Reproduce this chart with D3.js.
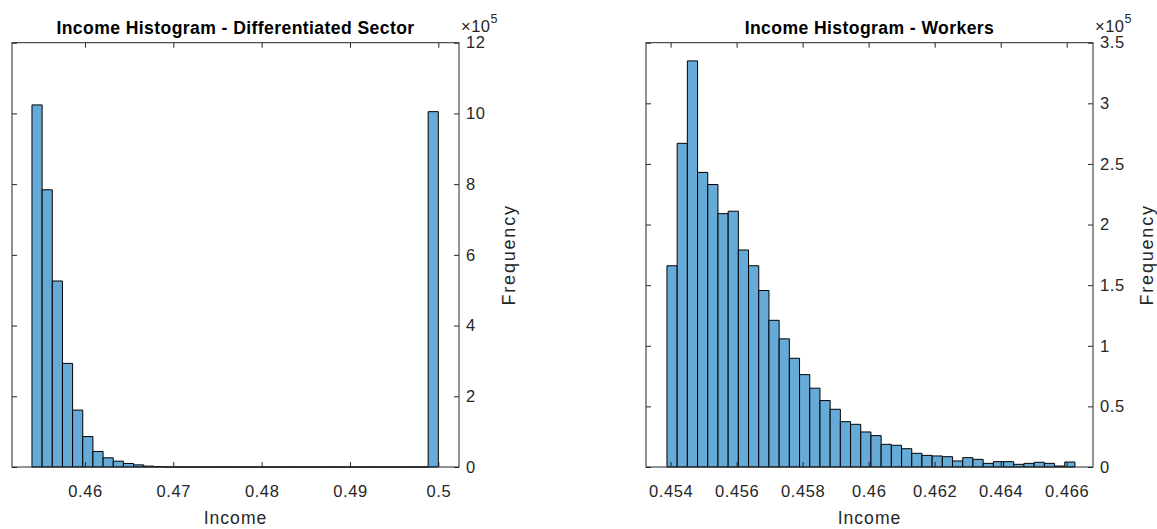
<!DOCTYPE html>
<html lang="en">
<head>
<meta charset="UTF-8">
<title>Income Histograms</title>
<script src="https://d3js.org/d3.v7.min.js"></script>
<style>
  body { margin: 0; background: #fff; }
  text { font-family: "Liberation Sans", Arial, Helvetica, sans-serif; }
  .tick text { font-size: 16.5px; fill: #262626; letter-spacing: 0.6px; }
  .tick line { stroke: #262626; stroke-width: 1; }
</style>
</head>
<body>
<svg id="chart" width="1157" height="529"></svg>
<script>
// ---- Data ----
// Differentiated sector: 40 bins starting at 0.454, width 0.00115
const sectorBinStart = 0.454;
const sectorBinWidth = 0.00115;
const sectorCounts = [
  1024000, 784000, 526000, 293000, 161000, 86000, 44000, 26000, 16500, 10000,
  6000, 2500, 1000, 0, 0, 0, 0, 0, 0, 0,
  0, 0, 0, 0, 0, 0, 0, 0, 0, 0,
  0, 0, 0, 0, 0, 0, 0, 0, 0, 1005000
];
const sectorXDomain = [0.45174, 0.50234];
const sectorXTicks = [0.46, 0.47, 0.48, 0.49, 0.5];
const sectorXLabels = ["0.46", "0.47", "0.48", "0.49", "0.5"];
const sectorYMax = 1200000;
const sectorYTicks = [0, 200000, 400000, 600000, 800000, 1000000, 1200000];
const sectorYLabels = ["0", "2", "4", "6", "8", "10", "12"];

// Workers: 40 bins starting at 0.45389, width 0.000309
const workerBinStart = 0.45389;
const workerBinWidth = 0.000309;
const workerCounts = [
  166000, 267000, 335000, 243000, 233000, 209000, 211000, 179000, 166000, 145600,
  121000, 105700, 89700, 76200, 65000, 54800, 47600, 37400, 35200, 28900,
  25900, 18700, 17900, 15100, 11300, 9600, 9100, 8500, 5000, 7700,
  6300, 3000, 4400, 4400, 2200, 3000, 3900, 3000, 800, 4100
];
const workerXDomain = [0.453255, 0.466797];
const workerXTicks = [0.454, 0.456, 0.458, 0.46, 0.462, 0.464, 0.466];
const workerXLabels = ["0.454", "0.456", "0.458", "0.46", "0.462", "0.464", "0.466"];
const workerYMax = 350000;
const workerYTicks = [0, 50000, 100000, 150000, 200000, 250000, 300000, 350000];
const workerYLabels = ["0", "0.5", "1", "1.5", "2", "2.5", "3", "3.5"];

// ---- Layout ----
const plotTop = 42.7, plotBottom = 467, plotWidth = 447;
const tickLen = 5;
const axisColor = "#262626";

const svg = d3.select("#chart");

function drawHist(cfg) {
    const left = cfg.left, right = cfg.left + plotWidth;
    const g = svg.append("g");

    const x = d3.scaleLinear().domain(cfg.xDomain).range([left, right]);
    const y = d3.scaleLinear().domain([0, cfg.yMax]).range([plotBottom, plotTop]);

    // bars (paths so empty bins still show as a flat edge)
    g.append("g")
        .selectAll("path")
        .data(cfg.counts)
        .join("path")
            .attr("d", (c, i) => {
                const x0 = x(cfg.binStart + i * cfg.binWidth);
                const x1 = x(cfg.binStart + (i + 1) * cfg.binWidth);
                return `M${x0},${y(0)}V${y(c)}H${x1}V${y(0)}Z`;
            })
            .attr("fill", "#66aad7")
            .attr("stroke", "#000")
            .attr("stroke-width", 1);

    // axes, ticks pointing inward
    const fmtX = (d, i) => cfg.xLabels[i];
    const fmtY = (d, i) => cfg.yLabels[i];

    const gBottom = g.append("g")
        .attr("transform", `translate(0,${plotBottom})`)
        .call(d3.axisBottom(x).tickValues(cfg.xTicks).tickFormat(fmtX)
            .tickSize(-tickLen).tickSizeOuter(0).tickPadding(18.3));
    const gTop = g.append("g")
        .attr("transform", `translate(0,${plotTop})`)
        .call(d3.axisTop(x).tickValues(cfg.xTicks).tickFormat("")
            .tickSize(-tickLen).tickSizeOuter(0));
    const gRight = g.append("g")
        .attr("transform", `translate(${right},0)`)
        .call(d3.axisRight(y).tickValues(cfg.yTicks).tickFormat(fmtY)
            .tickSize(-tickLen).tickSizeOuter(0).tickPadding(7));
    const gLeft = g.append("g")
        .attr("transform", `translate(${left},0)`)
        .call(d3.axisLeft(y).tickValues(cfg.yTicks).tickFormat("")
            .tickSize(-tickLen).tickSizeOuter(0));

    [gBottom, gTop, gRight, gLeft].forEach(a => {
        a.select(".domain").remove();
        a.attr("font-family", null).attr("font-size", null);
    });

    // box
    g.append("rect")
        .attr("x", left)
        .attr("y", plotTop)
        .attr("width", plotWidth)
        .attr("height", plotBottom - plotTop)
        .attr("fill", "none")
        .attr("stroke", axisColor)
        .attr("stroke-width", 1);

    // exponent label
    const expo = g.append("text")
        .attr("x", right + 2)
        .attr("y", 32)
        .style("font-size", "16.5px")
        .style("letter-spacing", "0.5px")
        .attr("fill", axisColor);
    expo.append("tspan").text("\u00d710");
    expo.append("tspan").attr("dy", -9).style("font-size", "12.5px").text("5");

    // title
    g.append("text")
        .attr("x", (left + right) / 2)
        .attr("y", 34)
        .attr("text-anchor", "middle")
        .style("font-size", "17.6px")
        .style("font-weight", "bold")
        .style("letter-spacing", "0.4px")
        .attr("fill", "#000")
        .text(cfg.title);

    // x label
    g.append("text")
        .attr("x", (left + right) / 2)
        .attr("y", 524)
        .attr("text-anchor", "middle")
        .style("font-size", "17.6px")
        .style("letter-spacing", "1px")
        .attr("fill", axisColor)
        .text("Income");

    // y label on the right
    g.append("text")
        .attr("transform", `translate(${cfg.yLabelX},${(plotTop + plotBottom) / 2}) rotate(-90)`)
        .attr("text-anchor", "middle")
        .style("font-size", "18px")
        .style("letter-spacing", "1.8px")
        .attr("fill", axisColor)
        .text("Frequency");
}

drawHist({
    left: 12,
    title: "Income Histogram - Differentiated Sector",
    binStart: sectorBinStart, binWidth: sectorBinWidth, counts: sectorCounts,
    xDomain: sectorXDomain, xTicks: sectorXTicks, xLabels: sectorXLabels,
    yMax: sectorYMax, yTicks: sectorYTicks, yLabels: sectorYLabels,
    yLabelX: 515
});

drawHist({
    left: 646,
    title: "Income Histogram - Workers",
    binStart: workerBinStart, binWidth: workerBinWidth, counts: workerCounts,
    xDomain: workerXDomain, xTicks: workerXTicks, xLabels: workerXLabels,
    yMax: workerYMax, yTicks: workerYTicks, yLabels: workerYLabels,
    yLabelX: 1153
});
</script>
</body>
</html>
